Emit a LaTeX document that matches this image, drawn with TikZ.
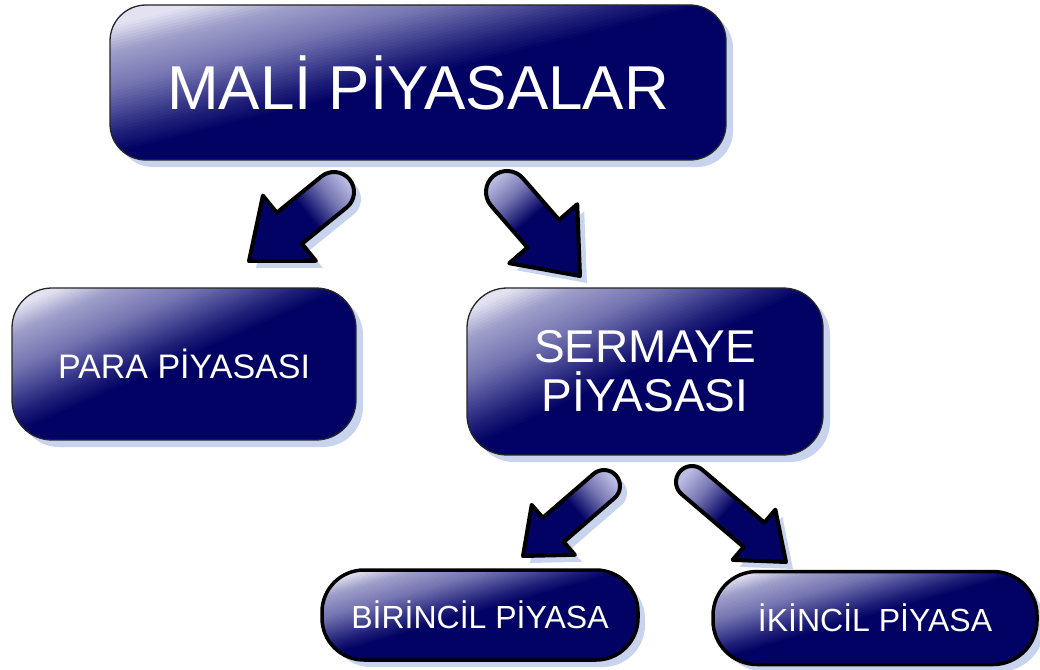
\documentclass[tikz,border=0pt]{standalone}
\usepackage{fontspec}
\setmainfont{Liberation Sans}
\definecolor{lt}{RGB}{226,228,242}
\definecolor{md}{RGB}{117,117,178}
\definecolor{dk}{RGB}{2,2,100}
\definecolor{alt}{RGB}{186,188,226}
\definecolor{shd}{RGB}{200,212,238}
\pgfdeclarelayer{bg}
\pgfsetlayers{bg,main}
\pgfdeclarehorizontalshading{arrshade}{100bp}{color(0bp)=(alt); color(22bp)=(alt); color(34bp)=(md); color(48bp)=(dk); color(100bp)=(dk)}
\makeatletter
\newcommand\blockarrow[5]{%
  \pgfmathanglebetweenpoints{\pgfpointanchor{#1}{center}}{\pgfpointanchor{#2}{center}}%
  \let\baang\pgfmathresult
  \pgfpointdiff{\pgfpointanchor{#1}{center}}{\pgfpointanchor{#2}{center}}%
  \pgfmathveclen{\pgf@x}{\pgf@y}%
  \let\balen\pgfmathresult
  \pgfmathsetmacro\babase{\balen-#5}%
  \draw[arrowbody, shading angle=\baang] [shift={(#1)}, rotate=\baang]
    (0pt,#3pt) -- (\babase pt,#3pt) -- (\babase pt,#4pt) -- (\balen pt,0pt)
    -- (\babase pt,-#4pt) -- (\babase pt,-#3pt) -- (0pt,-#3pt)
    arc[start angle=-90, end angle=-270, radius=#3pt] -- cycle;
}
\newcommand\gradfill[2]{%
  \pgfpointanchor{#1}{north west}\edef\gx{\strip@pt\pgf@x}\edef\gy{\strip@pt\pgf@y}%
  \pgfpointanchor{#1}{south east}\edef\gR{\strip@pt\pgf@x}\edef\gB{\strip@pt\pgf@y}%
  \pgfmathsetmacro\gW{\gR-\gx}%
  \pgfmathsetmacro\gH{\gy-\gB}%
  \fill[shd, rounded corners=#2] ([shift={(7pt,-7pt)}]#1.north west) rectangle ([shift={(7pt,-7pt)}]#1.south east);
  \begin{scope}
    \clip[rounded corners=#2] (#1.north west) rectangle (#1.south east);
    \fill[dk] (#1.north west) rectangle (#1.south east);
    \foreach \t in {0,0.02,...,0.98}{%
      \pgfmathsetmacro\tm{\t+0.01}%
      \pgfmathtruncatemacro\rr{\tm<0.14 ? 226 : (\tm<0.3 ? 226-66*(\tm-0.14)/0.16 : (\tm<0.54 ? 160-43*(\tm-0.3)/0.24 : (\tm<0.75 ? 117-59*(\tm-0.54)/0.21 : (\tm<0.84 ? 58-26*(\tm-0.75)/0.09 : (\tm<0.97 ? 32-30*(\tm-0.84)/0.13 : 2)))))}%
      \pgfmathtruncatemacro\bb{\tm<0.14 ? 242 : (\tm<0.3 ? 242-38*(\tm-0.14)/0.16 : (\tm<0.54 ? 204-26*(\tm-0.3)/0.24 : (\tm<0.75 ? 178-38*(\tm-0.54)/0.21 : (\tm<0.84 ? 140-18*(\tm-0.75)/0.09 : (\tm<0.97 ? 122-22*(\tm-0.84)/0.13 : 100)))))}%
      \pgfmathsetmacro\tb{\t+0.025}%
      \definecolor{bandc}{RGB}{\rr,\rr,\bb}%
      \fill[bandc] (\gx pt+\t*\gW pt, \gy pt) -- (\gx pt+\tb*\gW pt, \gy pt)
        -- (\gx pt+\tb*\gW pt-\gW pt, \gB pt) -- (\gx pt+\t*\gW pt-\gW pt, \gB pt) -- cycle;
    }%
  \end{scope}}
\makeatother
\begin{document}
\begin{tikzpicture}[x=1pt,y=-1pt,
  box/.style={draw=black!85, line width=1.3pt, text=white, align=center,
    inner sep=0pt, outer sep=0pt},
  pill/.style={box, draw=black, line width=3.5pt},
  arrowbody/.style={draw=black, line width=4pt, line join=round, shading=arrshade,
    preaction={fill=shd, transform canvas={shift={(7pt,-7pt)}}}}]
\useasboundingbox (0,0) rectangle (1040,669);

\node[box, rounded corners=36pt, minimum width=616pt, minimum height=155pt,
  font=\fontsize{62}{62}\selectfont] (mali) at (418,82.5) {MALİ PİYASALAR};
\node[box, rounded corners=40pt, minimum width=344pt, minimum height=152pt,
  font=\fontsize{34}{34}\selectfont] (para) at (184,364) {PARA PİYASASI};
\node[box, rounded corners=40pt, minimum width=356pt, minimum height=167pt,
  font=\fontsize{46}{49}\selectfont] (serm) at (645,371.5) {SERMAYE\\PİYASASI};
\node[pill, rounded corners=42pt, minimum width=316pt, minimum height=90pt,
  font=\fontsize{32}{32}\selectfont] (bir) at (480,615) {BİRİNCİL PİYASA};
\node[pill, rounded corners=44pt, minimum width=324pt, minimum height=93pt,
  font=\fontsize{32}{32}\selectfont] (iki) at (875,618) {İKİNCİL PİYASA};

\begin{pgfonlayer}{bg}
\gradfill{mali}{36pt}
\gradfill{para}{40pt}
\gradfill{serm}{40pt}
\gradfill{bir}{42pt}
\gradfill{iki}{44pt}
\end{pgfonlayer}

\coordinate (a1t) at (334,192);
\coordinate (a1h) at (249,261);
\coordinate (a2t) at (507,192);
\coordinate (a2h) at (580,276);
\coordinate (a3t) at (604,486);
\coordinate (a3h) at (523,556);
\coordinate (a4t) at (692,482);
\coordinate (a4h) at (786,562);

\blockarrow{a1t}{a1h}{20}{42}{52}
\blockarrow{a2t}{a2h}{21}{45}{56}
\blockarrow{a3t}{a3h}{16}{33}{40}
\blockarrow{a4t}{a4h}{16}{33}{42}
\end{tikzpicture}
\end{document}
